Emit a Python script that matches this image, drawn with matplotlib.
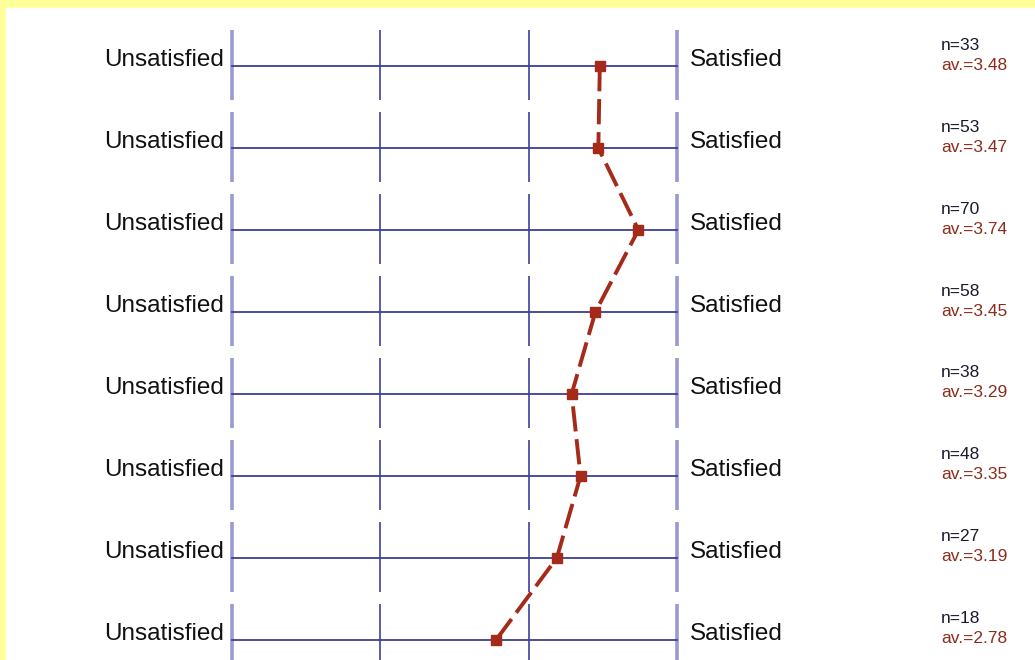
import numpy as np
import matplotlib as mpl
mpl.use('Agg')
import matplotlib.pyplot as plt
from matplotlib.patches import Rectangle

averages = [3.48, 3.47, 3.74, 3.45, 3.29, 3.35, 3.19, 2.78]
counts = [33, 53, 70, 58, 38, 48, 27, 18]
scale_ticks = [1, 2, 3, 4]
left_label = 'Unsatisfied'
right_label = 'Satisfied'

def run():
  plt.rcParams['font.family'] = ['Liberation Sans', 'DejaVu Sans']
  fig = plt.figure(figsize=(10.35, 6.6), dpi=100, facecolor='#ffff99')
  fig.add_artist(Rectangle((6 / 1035, 0), 1029 / 1035, 652 / 660,
                           transform=fig.transFigure, color='white', zorder=-1))
  ax = fig.add_axes([0, 0, 1, 1])
  ax.set_facecolor('none')
  ax.axis('off')
  ax.set_xlim(-0.564, 6.414)
  ax.set_ylim(7.244, -0.805)

  rows = np.arange(len(averages))
  for r in rows:
    for t in scale_ticks:
      outer = t in (scale_ticks[0], scale_ticks[-1])
      ax.plot([t, t], [r - 36 / 82, r + 34 / 82],
              color='#9a9ad0' if outer else '#5a5aaa',
              lw=2.6 if outer else 1.4, solid_capstyle='butt', zorder=1)
    ax.plot([scale_ticks[0], scale_ticks[-1]], [r, r], color='#3e3e98',
            lw=1.3, zorder=2)
    ax.text(0.946, r - 6 / 82, left_label, ha='right', va='center',
            fontsize=17.5, color='#111111')
    ax.text(4.088, r - 6 / 82, right_label, ha='left', va='center',
            fontsize=17.5, color='#111111')
    ax.text(5.78, r - 21 / 82, 'n=%d' % counts[r], ha='left', va='center',
            fontsize=12.5, color='#1a1a2e')
    ax.text(5.78, r - 1 / 82, 'av.=%.2f' % averages[r], ha='left',
            va='center', fontsize=12.5, color='#8b2c1c')

  ax.plot(averages, rows, color='#a52a1a', lw=2.8, dashes=(6.5, 2),
          marker='s', markersize=7.5, markerfacecolor='#a52a1a',
          markeredgecolor='#a52a1a', zorder=3)
  fig.savefig('out.png', dpi=100, facecolor=fig.get_facecolor())

if __name__ == '__main__':
  run()
